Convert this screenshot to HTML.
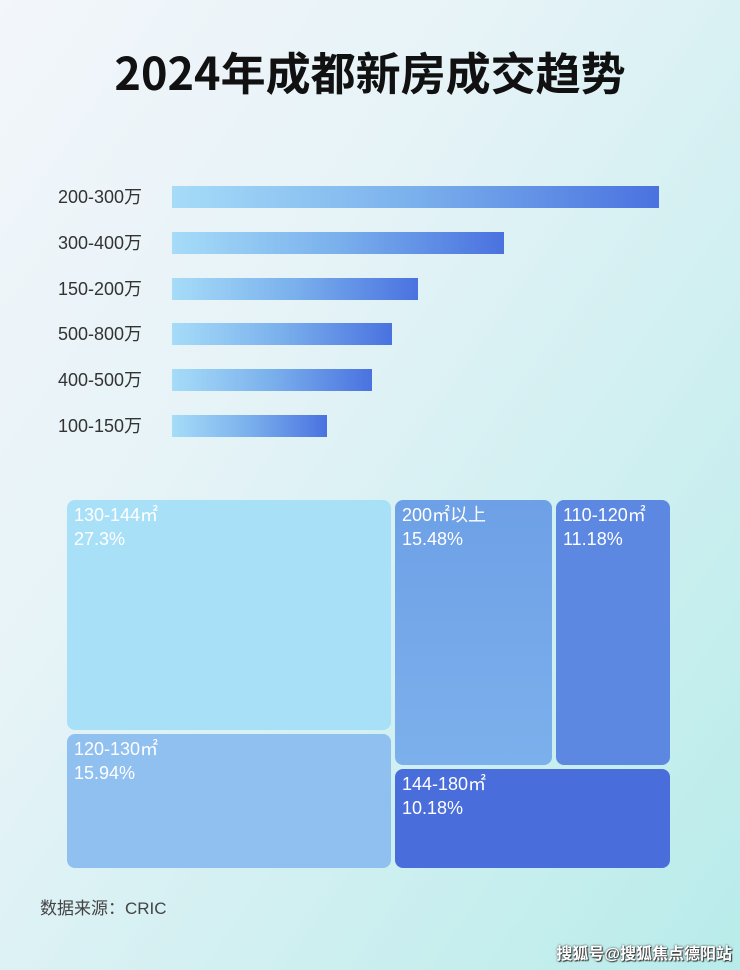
<!DOCTYPE html>
<html><head><meta charset="utf-8"><style>
html,body{margin:0;padding:0}
body{width:740px;height:970px;position:relative;overflow:hidden;font-family:"Liberation Sans","Noto Sans CJK SC",sans-serif;
background:linear-gradient(125deg,#f3f6fb 0%,#e6f3f7 35%,#cdeff0 70%,#b8ecea 100%);}
.t{position:absolute;left:0;width:740px;top:38px;text-align:center;font-size:45px;font-weight:bold;color:#111;font-family:"Noto Sans CJK SC",sans-serif;letter-spacing:0px}
.lab{position:absolute;left:58px;font-size:18px;color:#333;line-height:22px}
.bar{position:absolute;left:172px;height:22px;background:linear-gradient(90deg,#a6dcf8,#7ab0ec 50%,#4a72e0)}
.box{position:absolute;border-radius:8px;color:#fff;font-size:18px;line-height:24px;padding:3px 7px;box-sizing:border-box}
.src{position:absolute;left:40px;top:894px;font-size:17px;color:#444}
.wm{position:absolute;right:8px;top:940px;font-size:16px;color:#fff;font-weight:bold;text-shadow:0 0 2px #333,1px 1px 1px #333}
</style></head><body>
<div class="t">2024年成都新房成交趋势</div>
<div class="lab" style="top:186px">200-300万</div><div class="bar" style="top:186px;width:487px"></div>
<div class="lab" style="top:232px">300-400万</div><div class="bar" style="top:232px;width:332px"></div>
<div class="lab" style="top:278px">150-200万</div><div class="bar" style="top:278px;width:246px"></div>
<div class="lab" style="top:323px">500-800万</div><div class="bar" style="top:323px;width:220px"></div>
<div class="lab" style="top:369px">400-500万</div><div class="bar" style="top:369px;width:200px"></div>
<div class="lab" style="top:415px">100-150万</div><div class="bar" style="top:415px;width:155px"></div>
<div class="box" style="left:67px;top:500px;width:324px;height:230px;background:#a8e0f8">130-144㎡<br>27.3%</div>
<div class="box" style="left:67px;top:734px;width:324px;height:134px;background:#8fc0f0">120-130㎡<br>15.94%</div>
<div class="box" style="left:395px;top:500px;width:157px;height:265px;background:linear-gradient(180deg,#6da0e6,#7cb0ec)">200㎡以上<br>15.48%</div>
<div class="box" style="left:556px;top:500px;width:114px;height:265px;background:#5c88e2">110-120㎡<br>11.18%</div>
<div class="box" style="left:395px;top:769px;width:275px;height:99px;background:#4a6ddc">144-180㎡<br>10.18%</div>
<div class="src">数据来源：CRIC</div>
<div class="wm">搜狐号@搜狐焦点德阳站</div>
</body></html>
